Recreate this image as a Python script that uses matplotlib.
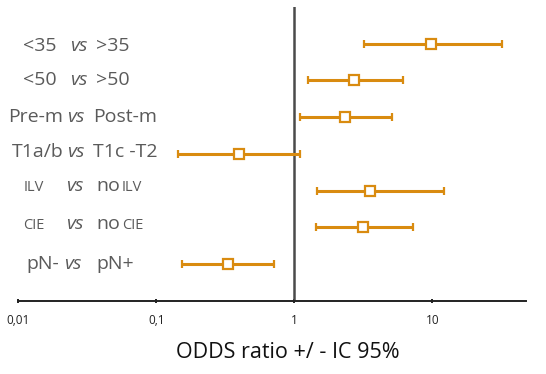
import matplotlib
matplotlib.use("Agg")
import matplotlib.pyplot as plt

# ---- data ----
left_parts = ["<35", "<50", "Pre-m", "T1a/b", "ILV", "CIE", "pN-"]
right_parts = [">35", ">50", "Post-m", "T1c -T2", "no ILV", "no CIE", "pN+"]
odds_ratio = [9.8, 2.72, 2.34, 0.40, 3.57, 3.16, 0.33]
ci_low = [3.18, 1.25, 1.10, 0.143, 1.46, 1.43, 0.153]
ci_high = [32.3, 6.1, 5.07, 1.10, 12.1, 7.2, 0.71]
tick_values = [0.01, 0.1, 1, 10]
tick_labels = ["0,01", "0,1", "1", "10"]
xlabel = "ODDS ratio +/ - IC 95%"

W, H = 546, 374
fig = plt.figure(figsize=(W / 100, H / 100), dpi=100)
ax = fig.add_axes([18.3 / W, (H - 300.7) / H, (525.7 - 18.3) / W, (300.7 - 7) / H])

orange = "#D98B10"
n = len(odds_ratio)
ypos = list(range(n, 0, -1))
xerr = [[o - l for o, l in zip(odds_ratio, ci_low)],
        [h - o for o, h in zip(odds_ratio, ci_high)]]
ax.errorbar(odds_ratio, ypos, xerr=xerr, fmt="s", color=orange, ecolor=orange,
            elinewidth=2.2, capsize=3, capthick=2.2, markersize=7.5,
            markerfacecolor="white", markeredgecolor=orange, markeredgewidth=1.6,
            zorder=3)
ax.axvline(1, color="#4a4a4a", lw=1.8, zorder=2)

ax.set_xscale("log")
ax.set_xlim(0.01, 47.6)
ax.set_ylim(0, 8)
for s in ["top", "right", "left"]:
    ax.spines[s].set_visible(False)
ax.spines["bottom"].set_linewidth(1.4)
ax.spines["bottom"].set_color("#222222")
ax.set_yticks([])
ax.set_xticks(tick_values)
ax.set_xticklabels(tick_labels, fontsize=8.5, family="Open Sans", color="#222222")
ax.xaxis.set_minor_locator(matplotlib.ticker.NullLocator())
ax.tick_params(axis="x", direction="inout", length=3, width=1.4, pad=8, color="#222222")
ax.set_xlabel(xlabel, fontsize=15.5, family="Open Sans", color="#111111", labelpad=11)
ax.xaxis.label.set_x(0.5306)

# ---- category labels (layout in pixels) ----
label_color = "#5a5a5a"
baselines = [50.7, 85, 121.7, 157.3, 190.7, 229.3, 269.3]
left_x = [23, 23, 8, 12, 24, 23, 26]
vs_x = [70, 70, 67, 67, 66, 66, 64]
right_x = [96, 96, 93, 93, 96, 96, 96]
small_words = {"ILV", "CIE"}


def put(x, y, s, size=14, style="normal"):
    fig.text(x / W, (H - y) / H, s, fontsize=size, style=style, family="Open Sans",
             color=label_color, ha="left", va="baseline")


for i in range(n):
    y = baselines[i]
    lp = left_parts[i]
    put(left_x[i], y, lp, size=10.5 if lp in small_words else 14)
    put(vs_x[i], y, "vs", style="italic")
    rp = right_parts[i]
    words = rp.split(" ", 1)
    if len(words) == 2 and words[1] in small_words:
        put(right_x[i], y, words[0])
        put(right_x[i] + 26, y, words[1], size=10.5)
    else:
        put(right_x[i], y, rp)

fig.savefig("out.png", dpi=100)
